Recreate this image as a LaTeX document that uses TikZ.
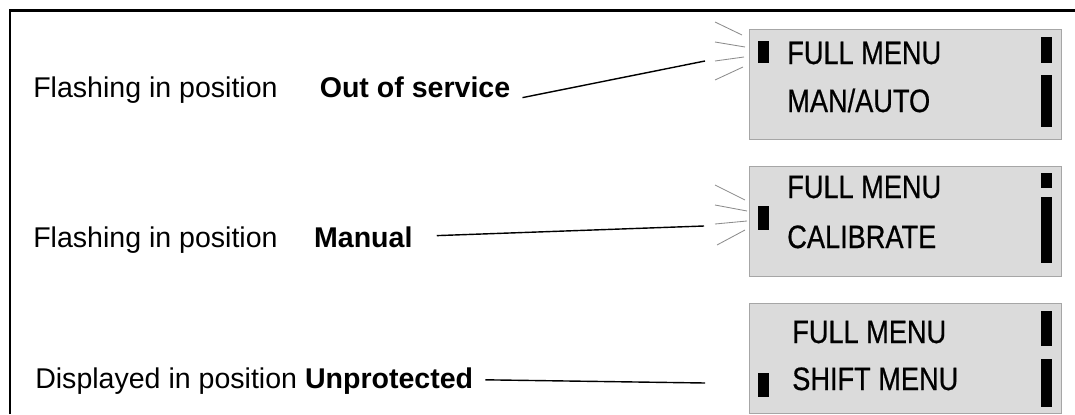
\documentclass[tikz,border=0pt]{standalone}
\usepackage{fontspec}
\setmainfont{Liberation Sans}
\newfontfamily\lcdfont[FakeStretch=0.84,FakeBold=0.6]{Liberation Sans}
\usetikzlibrary{positioning}

\begin{document}
\begin{tikzpicture}[
  x=0.025cm, y=-0.025cm,
  hint/.style={anchor=base west, inner sep=0pt,
    font=\fontsize{20.3}{24}\selectfont},
  lcd/.style={draw=black!35, fill=black!14, line width=0.6pt,
    anchor=north west, inner sep=0pt,
    minimum width=7.8cm, minimum height=2.75cm},
  lcdline/.style={anchor=base west, inner sep=0pt,
    font=\lcdfont\fontsize{23}{27}\selectfont},
  seg/.style={fill=black},
  flash/.style={draw=black!45, line width=0.6pt},
  lead/.style={draw, line width=1pt}
]
\useasboundingbox (0,0) rectangle (1075,414);

% Frame (top and left edge only)
\draw[line width=1.5pt] (10,414) -- (10,10.5) -- (1075,10.5);

% Displays
\node[lcd] (lcd1) at (749,29) {};
\node[lcd] (lcd2) at (749,166) {};
\node[lcd] (lcd3) at (749,303) {};

\node[lcdline] (l1a) at (787,64) {FULL MENU};
\node[lcdline] (l1b) at (787,112) {MAN/AUTO};
\node[lcdline] (l2a) at (787,198) {FULL MENU};
\node[lcdline] (l2b) at (787,248) {CALIBRATE};
\node[lcdline] (l3a) at (792,343) {FULL MENU};
\node[lcdline] (l3b) at (792,390) {SHIFT MENU};

% Cursor and scroll bars
\fill[seg] (758,41) rectangle (769,63);
\fill[seg] (1041,37) rectangle (1052,63);
\fill[seg] (1041,75) rectangle (1052,127);
\fill[seg] (758,206) rectangle (769,230);
\fill[seg] (1041,173) rectangle (1052,188);
\fill[seg] (1041,197) rectangle (1052,263);
\fill[seg] (758,373) rectangle (769,397);
\fill[seg] (1041,311) rectangle (1052,346);
\fill[seg] (1041,359) rectangle (1052,407);

% Flashing rays
\draw[flash] (715,22) -- (742,35);
\draw[flash] (715,42) -- (745,47);
\draw[flash] (715,61) -- (744,57);
\draw[flash] (715,80) -- (743,67);
\draw[flash] (715,185) -- (745,200);
\draw[flash] (715,205) -- (747,211);
\draw[flash] (715,224) -- (747,221);
\draw[flash] (717,245) -- (745,230);

% Explanations
\node[hint] (txt1) at (33,97)
  {Flashing in position\hspace{1.2em} \textbf{Out of service}};
\node[hint] (txt2) at (33,247)
  {Flashing in position\hspace{1.0em} \textbf{Manual}};
\node[hint] (txt3) at (35,388)
  {Displayed in position \textbf{Unprotected}};

\coordinate (tip1) at (705,61);
\coordinate (tip2) at (704,226);
\coordinate (tip3) at (705,383);

\draw[lead] ([xshift=0.3cm,yshift=-0.2cm]txt1.east) -- (tip1);
\draw[lead] ([xshift=0.6cm,yshift=0.1cm]txt2.east) -- (tip2);
\draw[lead] ([xshift=0.3cm,yshift=0.02cm]txt3.east) -- (tip3);

\end{tikzpicture}
\end{document}
